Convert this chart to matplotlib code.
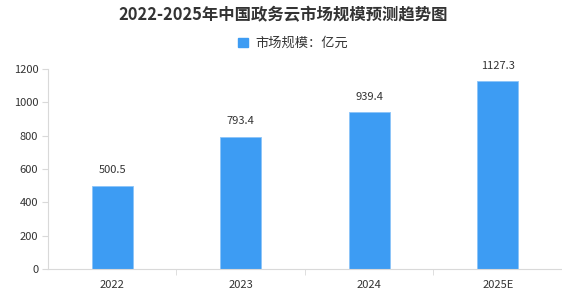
import matplotlib.pyplot as plt
import matplotlib.patches as mpatches

plt.rcParams['font.family'] = ['Noto Sans CJK SC', 'DejaVu Sans']

years = ['2022', '2023', '2024', '2025E']
values = [500.5, 793.4, 939.4, 1127.3]
y_ticks = [0, 200, 400, 600, 800, 1000, 1200]

bar_color = '#3d9cf3'
axis_color = '#d9d9d9'
text_color = '#333333'

fig = plt.figure(figsize=(5.62, 3.0), dpi=100)
ax = fig.add_axes([0.0854, 0.1033, 0.9146, 0.6667])

x = list(range(len(years)))
ax.bar(x, values, width=0.32, color=bar_color, edgecolor='#8cc4f8', linewidth=0.6, zorder=2)
for xi, v in zip(x, values):
    ax.annotate('%.1f' % v, (xi, v), xytext=(0, 7.5), textcoords='offset points',
                ha='center', va='bottom', fontsize=8, color=text_color)

ax.set_xlim(-0.5, len(years) - 0.5)
ax.set_ylim(0, 1200)
ax.set_yticks(y_ticks)
ax.set_yticklabels([str(t) for t in y_ticks], fontsize=8, color=text_color)
ax.set_xticks(x)
ax.set_xticklabels(years, fontsize=8, color=text_color)
# category separators on the x axis
ax.set_xticks([i + 0.5 for i in range(len(years) - 1)], minor=True)
ax.tick_params(axis='x', which='major', length=0, pad=8)
ax.tick_params(axis='x', which='minor', length=4, color=axis_color, direction='out')
ax.tick_params(axis='y', length=4, color=axis_color, pad=3)

for s in ['top', 'right']:
    ax.spines[s].set_visible(False)
ax.spines['left'].set_color(axis_color)
ax.spines['bottom'].set_color(axis_color)

fig.text(0.503, 0.95, '2022-2025年中国政务云市场规模预测趋势图', ha='center', va='center',
         fontsize=11.8, fontweight='bold', color=text_color)
patch = mpatches.Patch(color=bar_color, label='市场规模：亿元')
fig.legend(handles=[patch], loc='center', bbox_to_anchor=(0.522, 0.855), frameon=False,
           fontsize=9.5, handlelength=0.7, handleheight=0.7, handletextpad=0.6,
           labelcolor=text_color)

fig.savefig('out.png', dpi=100)
